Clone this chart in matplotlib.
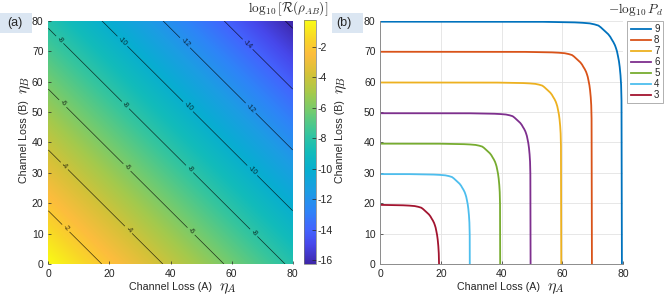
import numpy as np
import matplotlib
matplotlib.use('Agg')
import matplotlib.pyplot as plt
from matplotlib.colors import LinearSegmentedColormap
from matplotlib.patches import Rectangle

# ---- data ----
# panel (a): log10 R(rho_AB) along eta_A + eta_B (contour crossings)
eta_sum_pts = [0, 17.5, 37.5, 57.5, 77.5, 97.5, 117.5, 137.5, 157.5, 160]
log_r_vals = [-0.25, -2, -4, -6, -8, -10, -12, -14, -16, -16.25]
contour_levels = [-16, -14, -12, -10, -8, -6, -4, -2]
cbar_ticks = [-16, -14, -12, -10, -8, -6, -4, -2]
label_x = [4, 25, 46, 67]
label_y = [10, 31, 52, 74]

# panel (b): -log10 Pd curves, edge position of each curve
pd_levels = [9, 8, 7, 6, 5, 4, 3]
pd_edges = [79.7, 69.8, 59.7, 49.6, 39.6, 29.6, 19.5]
corner_scale = [1.3, 1.1, 1.05, 1.0, 1.0, 1.0, 1.0]
# corner shape: distance from edge in eta_A vs drop in eta_B
corner_d = [80, 20, 12, 10, 8.2, 7, 6, 5.4, 4.8, 4.2, 3.5, 3.0, 2.6, 2.2,
            1.8, 1.55, 1.3, 1.05, 0.8, 0.6, 0.4, 0.25, 0.15, 0]
corner_drop = [0, 0.05, 0.2, 0.3, 0.45, 0.7, 1.0, 1.45, 2.0, 2.55, 3.2, 3.85, 4.55, 5.2,
               6.0, 6.7, 7.5, 8.7, 10, 11.5, 13.6, 16, 20, 80]
pd_colors = ['#0072BD', '#D95319', '#EDB120', '#7E2F8E', '#77AC30', '#4DBEEE', '#A2142F']

# parula-like colormap (newer MATLAB variant)
parula = LinearSegmentedColormap.from_list('parula', [
    (0.00, (0.2422, 0.1504, 0.6603)),
    (0.08, (0.2780, 0.2800, 0.9200)),
    (0.14, (0.2640, 0.3900, 0.9950)),
    (0.22, (0.1800, 0.5200, 0.9700)),
    (0.30, (0.1100, 0.6150, 0.8900)),
    (0.38, (0.0300, 0.6800, 0.8200)),
    (0.46, (0.0700, 0.7350, 0.7300)),
    (0.54, (0.2200, 0.7750, 0.6100)),
    (0.62, (0.4300, 0.7950, 0.4500)),
    (0.70, (0.6400, 0.7900, 0.3000)),
    (0.78, (0.8300, 0.7600, 0.2200)),
    (0.86, (0.9900, 0.7400, 0.2400)),
    (0.92, (0.9750, 0.8300, 0.1600)),
    (1.00, (0.9769, 0.9839, 0.0805)),
])

plt.rcParams['font.family'] = ['Liberation Sans', 'DejaVu Sans']
plt.rcParams['mathtext.fontset'] = 'cm'
txt = '#262626'

fig = plt.figure(figsize=(6.64, 2.98), dpi=100)
W, H = 664, 298

def box(x0, y0, x1, y1):
    return [x0 / W, 1 - y1 / H, (x1 - x0) / W, (y1 - y0) / H]

def axis_labels(xa_end, ya_base, yb_x):
    # x label: sans text + bigger math symbol, as in the original
    fig.text(xa_end / W, 1 - ya_base / H, 'Channel Loss (A)', fontsize=7.7,
             ha='right', va='baseline', color=txt)
    fig.text((xa_end + 7) / W, 1 - ya_base / H, r'$\eta_A$', fontsize=11.5,
             ha='left', va='baseline', color=txt)
    # y label (rotated)
    fig.text(yb_x / W, 1 - 100 / H, 'Channel Loss (B)', fontsize=7.7, rotation=90,
             rotation_mode='anchor', ha='right', va='baseline', color=txt)
    fig.text(yb_x / W, 1 - 94 / H, r'$\eta_B$', fontsize=11.5, rotation=90,
             rotation_mode='anchor', ha='left', va='baseline', color=txt)

# ---------------- (a) ----------------
ax1 = fig.add_axes(box(48.3, 20.7, 292.7, 264))
g = np.linspace(0, 80, 321)
EA, EB = np.meshgrid(g, g)
field = np.interp(EA + EB, eta_sum_pts, log_r_vals)
im = ax1.imshow(field, origin='lower', extent=[0, 80, 0, 80], cmap=parula,
                vmin=log_r_vals[-1], vmax=log_r_vals[0], aspect='auto',
                interpolation='bilinear')
cs = ax1.contour(g, g, field, levels=contour_levels, colors='k',
                 linewidths=0.5, alpha=0.75, linestyles='solid')
pos = [(x, y) for x in label_x for y in label_y]
ax1.clabel(cs, manual=pos, inline=True, fontsize=5, fmt='%d', inline_spacing=2)
ax1.set_xlim(0, 80)
ax1.set_ylim(0, 80)
ax1.set_xticks(range(0, 81, 20))
ax1.set_yticks(range(0, 81, 10))
ax1.tick_params(direction='in', length=2.5, colors=txt, labelsize=7.5, width=0.5)
for s in ax1.spines.values():
    s.set_visible(False)
axis_labels(212, 290, 27)

cax = fig.add_axes(box(304.3, 20, 315.7, 264.3))
cb = fig.colorbar(im, cax=cax, ticks=cbar_ticks)
cb.ax.tick_params(direction='in', length=3, colors=txt, labelsize=7.5, width=0.5, pad=1.5)
cb.outline.set_edgecolor('#777777')
cb.outline.set_linewidth(0.5)
cb.ax.set_yticklabels([str(t) for t in cbar_ticks])
fig.text(288 / W, 1 - 9 / H, r'$\log_{10}[\mathcal{R}(\rho_{AB})]$', fontsize=9.5,
         ha='center', va='center', color=txt)

# ---------------- (b) ----------------
ax2 = fig.add_axes(box(380.4, 20.7, 623.0, 264))
for lev, L, k, c in zip(pd_levels, pd_edges, corner_scale, pd_colors):
    x = [L - k * d for d in corner_d]
    y = [L - k * dr for dr in corner_drop]
    ax2.plot(x, y, color=c, lw=1.3, label=str(lev))
ax2.set_xlim(0, 80)
ax2.set_ylim(0, 80)
ax2.set_xticks(range(0, 81, 20))
ax2.set_yticks(range(0, 81, 10))
ax2.grid(True, color='#e3e3e3', lw=0.6)
ax2.set_axisbelow(True)
ax2.tick_params(direction='in', length=2.5, colors=txt, labelsize=7.5, width=0.5)
ax2.spines['top'].set_visible(False)
ax2.spines['right'].set_visible(False)
for s in ['left', 'bottom']:
    ax2.spines[s].set_color('#8c8c8c')
    ax2.spines[s].set_linewidth(0.7)
axis_labels(540, 290, 343)

leg = fig.legend(loc='upper right', bbox_to_anchor=(663 / W, 1 - 20.7 / H),
                 fontsize=7, frameon=True, fancybox=False, handlelength=2.1,
                 handletextpad=0.3, borderpad=0.35, labelspacing=0.1,
                 borderaxespad=0)
leg.get_frame().set_edgecolor('#8c8c8c')
leg.get_frame().set_linewidth(0.6)
for t in leg.get_texts():
    t.set_color(txt)
fig.text(663 / W, 1 - 9 / H, r'$-\log_{10} P_d$', fontsize=9.5,
         ha='right', va='center', color=txt)

# panel tags
for x0, x1, xt, lab in [(0, 32, 15, '(a)'), (332, 363, 344, '(b)')]:
    fig.patches.append(Rectangle((x0 / W, 1 - 33 / H), (x1 - x0) / W, 20 / H,
                                 transform=fig.transFigure, facecolor='#dbe6f2',
                                 edgecolor='none', zorder=0))
    fig.text(xt / W, 1 - 23 / H, lab, fontsize=9, ha='center', va='center', color=txt)

fig.savefig('out.png', dpi=100)
